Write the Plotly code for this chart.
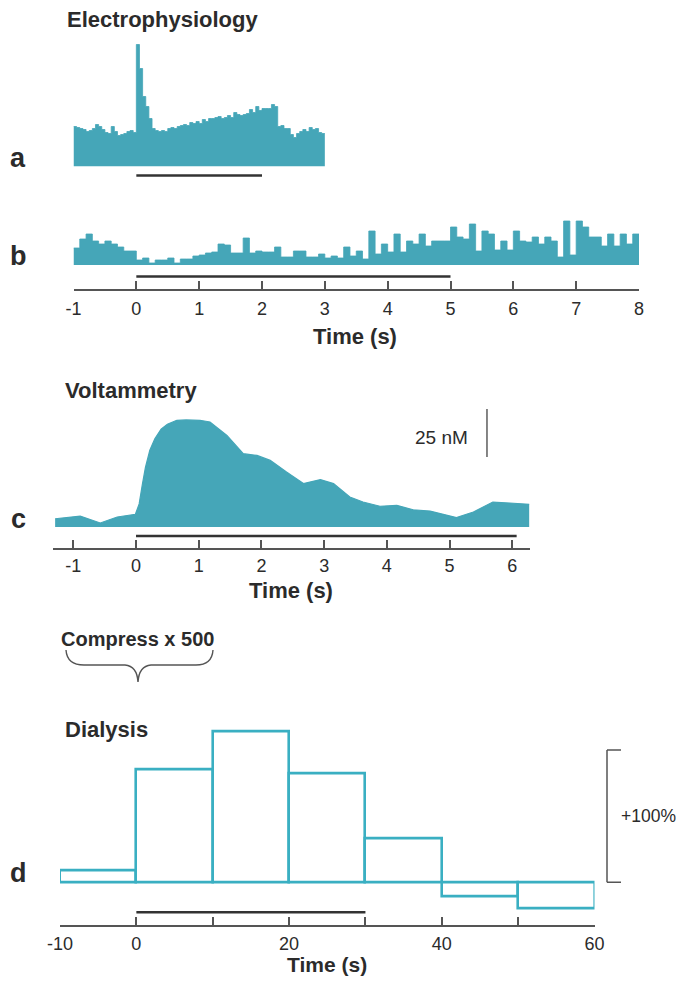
import numpy as np
import plotly.graph_objects as go

W, H = 684, 986          # page size
BM = 8                   # browser body margin
FW, FH = W - 2 * BM, H - 2 * BM

# ---------------- data ----------------
# (a) Electrophysiology PSTH: 50 ms bins from -1 s to 3 s (arbitrary rate units)
a_bin_start = -1.0
a_bin_width = 0.05
a_rate = [40, 39, 38, 37, 35, 36, 38, 42, 40, 37, 34, 33, 40, 35, 31, 32, 33, 35, 36, 34,
          122, 98, 70, 60, 48, 38, 36, 35, 36, 35, 38, 39, 38, 40, 41, 42, 41, 44, 43, 45,
          43, 47, 45, 48, 48, 49, 50, 48, 49, 51, 49, 54, 52, 51, 52, 53, 57, 54, 60, 56,
          58, 58, 58, 62, 60, 40, 41, 38, 38, 32, 29, 33, 35, 37, 35, 39, 37, 38, 34, 33]

# (b) Electrophysiology PSTH: 100 ms bins from -1 s to 8 s
b_bin_start = -1.0
b_bin_width = 0.1
b_rate = [17, 26, 31, 24, 21, 24, 21, 18, 14, 14,
          5, 7, 2, 5, 5, 7, 2, 6, 6, 9,
          10, 12, 13, 21, 20, 12, 12, 27, 12, 14,
          13, 13, 18, 8, 8, 14, 14, 8, 8, 11,
          7, 9, 7, 18, 9, 14, 6, 34, 11, 21,
          13, 31, 13, 24, 21, 31, 19, 24, 24, 24,
          38, 28, 26, 41, 14, 34, 31, 15, 24, 15,
          34, 24, 23, 28, 21, 28, 24, 8, 44, 10,
          44, 38, 28, 28, 19, 31, 19, 31, 21, 31]

# (c) Voltammetry: dopamine concentration (nM) vs time (s)
c_time = [-1.29, -0.89, -0.57, -0.30, -0.01, 0.05, 0.10, 0.15, 0.22, 0.30, 0.40, 0.50,
          0.65, 0.80, 1.02, 1.18, 1.45, 1.71, 1.93, 2.14, 2.40, 2.67, 2.94, 3.15, 3.41,
          3.62, 3.89, 4.16, 4.42, 4.69, 4.90, 5.11, 5.38, 5.69, 5.96, 6.27]
c_nM = [4.3, 5.7, 2.1, 5.2, 6.6, 12.0, 22.0, 31.0, 40.0, 46.0, 51.0, 53.5,
        55.6, 55.8, 55.6, 54.7, 47.7, 38.2, 37.3, 34.7, 28.6, 22.6, 24.7, 22.6, 15.6,
        13.0, 10.8, 11.3, 9.0, 8.3, 6.6, 4.9, 7.8, 13.0, 12.5, 11.8]
c_scale_nM = 25

# (d) Dialysis: % change per 10 s sample
d_bin_start = [-10, 0, 10, 20, 30, 40, 50]
d_bin_width = 10
d_change = [9, 85, 114, 82, 33, -11, -20]
d_scale_pct = 100

# stimulation periods (s)
stim_a = (0, 2.0)
stim_b = (0, 5.0)
stim_c = (0, 6.07)
stim_d = (0, 30)

b_ticks = list(range(-1, 9))
c_ticks = list(range(-1, 7))
d_ticks = list(range(-10, 61, 10))
d_ticklabels = ['-10', '0', '', '20', '', '40', '', '60']

# ---------------- style ----------------
TEAL = '#45A6B8'
TEAL_LINE = '#3AAFC2'
AX = '#555555'
TXT = '#2b2b2b'
FONT = 'Liberation Sans, Arial, sans-serif'
TITLE_SIZE = 22


def px(p):
    """page pixel x -> paper fraction"""
    return (p - BM) / FW


def py(p):
    """page pixel y -> paper fraction"""
    return 1 - (p - BM) / FH


# histogram step outlines (bin edges, last value repeated to close the final bin)
a_edges = [a_bin_start + a_bin_width * k for k in range(len(a_rate) + 1)]
a_step = a_rate + a_rate[-1:]
b_edges = [b_bin_start + b_bin_width * k for k in range(len(b_rate) + 1)]
b_step = b_rate + b_rate[-1:]
d_x = [s + d_bin_width / 2 for s in d_bin_start]

fig = go.Figure()
fig.add_trace(go.Scatter(x=a_edges, y=a_step, xaxis='x', yaxis='y', mode='lines',
                         line=dict(color=TEAL, width=0.8, shape='hv'),
                         fill='tozeroy', fillcolor=TEAL, hoverinfo='skip'))
fig.add_trace(go.Scatter(x=b_edges, y=b_step, xaxis='x2', yaxis='y2', mode='lines',
                         line=dict(color=TEAL, width=0.8, shape='hv'),
                         fill='tozeroy', fillcolor=TEAL, hoverinfo='skip'))
fig.add_trace(go.Scatter(x=c_time, y=c_nM, xaxis='x3', yaxis='y3', mode='lines',
                         fill='tozeroy', fillcolor=TEAL,
                         line=dict(color=TEAL, width=1.2), hoverinfo='skip'))
fig.add_trace(go.Bar(x=d_x, y=d_change, width=d_bin_width, xaxis='x4', yaxis='y4',
                     marker=dict(color='rgba(255,255,255,0)',
                                 line=dict(color=TEAL_LINE, width=2.6)),
                     cliponaxis=False, hoverinfo='skip'))

tickfont = dict(family=FONT, size=18, color=TXT)
axis_common = dict(showline=True, linecolor=AX, linewidth=1.5, ticks='inside',
                   ticklen=8, tickwidth=1.5, tickcolor=AX, showgrid=False,
                   zeroline=False, tickfont=tickfont, anchor='free', fixedrange=True,
                   automargin=False)
hidden = dict(visible=False, automargin=False, fixedrange=True)

fig.update_layout(
    template='none',
    width=FW, height=FH, margin=dict(l=0, r=0, t=0, b=0, pad=0), autosize=False,
    paper_bgcolor='white', plot_bgcolor='rgba(0,0,0,0)',
    showlegend=False, bargap=0,
    xaxis=dict(domain=[px(73.5), px(639)], range=[-1, 8], anchor='y', **hidden),
    yaxis=dict(domain=[py(166.5), py(38)], range=[0, 128.5], anchor='x', **hidden),
    xaxis2=dict(domain=[px(73.5), px(639)], range=[-1, 8], position=py(290),
                tickvals=b_ticks, ticktext=[str(t) for t in b_ticks],
                ticklabelstandoff=3, **axis_common),
    yaxis2=dict(domain=[py(265), py(212)], range=[0, 53], anchor='x2', **hidden),
    xaxis3=dict(domain=[px(53), px(530)], range=[-1.324, 6.283], position=py(549),
                tickvals=c_ticks, ticktext=[str(t) for t in c_ticks],
                ticklabelstandoff=1, **axis_common),
    yaxis3=dict(domain=[py(527), py(408)], range=[0, 62], anchor='x3', **hidden),
    xaxis4=dict(domain=[px(60), px(594.5)], range=[-10, 60], position=py(926),
                tickvals=d_ticks, ticktext=d_ticklabels,
                ticklabelstandoff=2, **axis_common),
    yaxis4=dict(domain=[py(915.4), py(723.4)], range=[-25, 120], anchor='x4', **hidden),
)

shapes = []
# stimulation bars
for (s0, s1), xr, ypix in [(stim_a, 'x', 175.5), (stim_b, 'x2', 276.5),
                           (stim_c, 'x3', 536), (stim_d, 'x4', 912.3)]:
    shapes.append(dict(type='line', xref=xr, yref='paper', x0=s0, x1=s1,
                       y0=py(ypix), y1=py(ypix), line=dict(color='#333333', width=2.6)))
# 25 nM scale bar
shapes.append(dict(type='line', xref='x3', yref='y3', x0=5.597, x1=5.597,
                   y0=61.5 - c_scale_nM, y1=61.5, line=dict(color='#444444', width=1.3)))
# +100% bracket
bx0, bx1 = px(607), px(621)
for y0, y1, xa, xb in [(0, d_scale_pct, bx0, bx0), (0, 0, bx0, bx1),
                       (d_scale_pct, d_scale_pct, bx0, bx1)]:
    shapes.append(dict(type='line', xref='paper', yref='y4', x0=xa, x1=xb, y0=y0, y1=y1,
                       line=dict(color='#555555', width=1.5)))
# compress brace
pts = "M {},{} Q {},{} {},{} L {},{} Q {},{} {},{} Q {},{} {},{} L {},{} Q {},{} {},{}".format(
    px(66), py(650), px(67), py(665), px(84), py(665),
    px(125), py(665), px(137), py(666), px(138), py(682),
    px(139), py(666), px(151), py(665),
    px(196), py(665), px(212), py(665), px(213), py(650))
shapes.append(dict(type='path', xref='paper', yref='paper', path=pts,
                   line=dict(color='#555555', width=1.4)))
fig.update_layout(shapes=shapes)


def txt(text, x, y, size, bold=False, xanchor='left', yanchor='middle'):
    return dict(text=('<b>%s</b>' % text) if bold else text, x=px(x), y=py(y),
                xref='paper', yref='paper', xanchor=xanchor, yanchor=yanchor,
                showarrow=False, font=dict(family=FONT, size=size, color=TXT))


annotations = [
    txt('Electrophysiology', 65, 20, TITLE_SIZE, True),
    txt('a', 18, 158, 27, True, 'center'),
    txt('b', 18, 256, 27, True, 'center'),
    txt('Time (s)', 355, 336, TITLE_SIZE, True, 'center'),
    txt('Voltammetry', 63, 391, TITLE_SIZE, True),
    txt('25 nM', 413, 437, 19),
    txt('c', 18, 519, 27, True, 'center'),
    txt('Time (s)', 291, 590, TITLE_SIZE, True, 'center'),
    txt('Compress x 500', 59, 639, 20, True),
    txt('Dialysis', 63, 729, TITLE_SIZE, True),
    txt('+100%', 619, 816, 17.5),
    txt('d', 18, 873, 27, True, 'center'),
    txt('Time (s)', 327, 977.5, 21, True, 'center', 'bottom'),
]
fig.update_layout(annotations=annotations)

fig.write_html("out.html")
